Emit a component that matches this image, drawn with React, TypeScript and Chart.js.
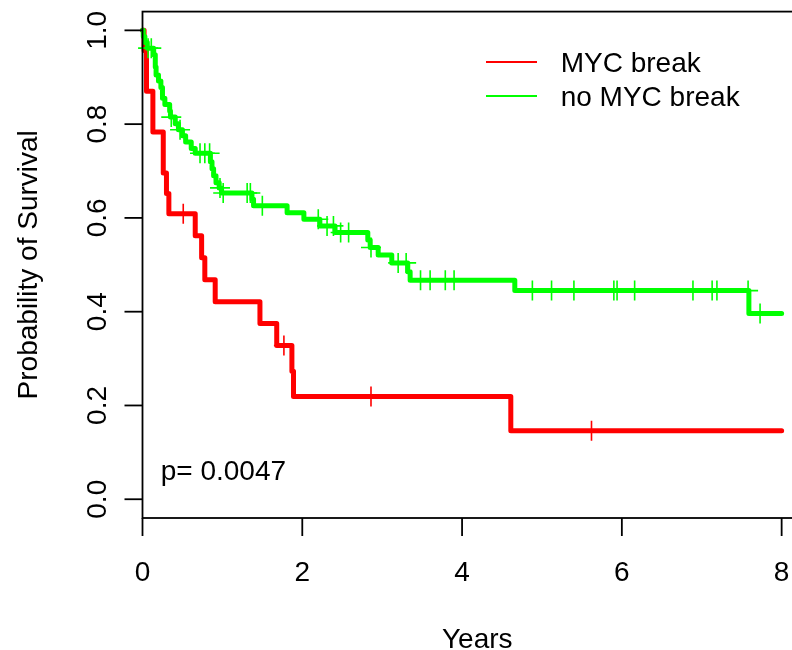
import { useEffect, useRef } from 'react';
import { Chart, registerables } from 'chart.js';

Chart.register(...registerables);

// ---- data ----
const RED_TIMES = [0, 0.02, 0.05, 0.13, 0.26, 0.30, 0.33, 0.66, 0.74, 0.78, 0.91, 1.47, 1.68, 1.87, 1.89, 4.61, 8.0];
const RED_SURV = [1, 0.957, 0.870, 0.783, 0.696, 0.652, 0.609, 0.562, 0.515, 0.468, 0.421, 0.375, 0.328, 0.273, 0.219, 0.146, 0.146];
const RED_CENSOR_TIMES = [0.51, 1.77, 2.86, 5.62];
const RED_CENSOR_SURV = [0.609, 0.328, 0.219, 0.146];

const GREEN_TIMES = [0, 0.01, 0.03, 0.06, 0.14, 0.16, 0.17, 0.20, 0.23, 0.25, 0.28, 0.34, 0.35, 0.41, 0.45, 0.50, 0.54, 0.61, 0.66, 0.85, 0.87, 0.89, 0.92, 0.96, 0.99, 1.37, 1.39, 1.81, 2.02, 2.22, 2.41, 2.82, 2.85, 2.95, 3.12, 3.32, 3.35, 4.66, 7.59, 8.0];
const GREEN_SURV = [1, 0.987, 0.974, 0.962, 0.948, 0.922, 0.905, 0.892, 0.878, 0.855, 0.842, 0.828, 0.815, 0.801, 0.788, 0.775, 0.762, 0.748, 0.738, 0.72, 0.705, 0.69, 0.675, 0.664, 0.653, 0.64, 0.626, 0.611, 0.597, 0.583, 0.569, 0.553, 0.537, 0.521, 0.504, 0.485, 0.467, 0.445, 0.396, 0.396];
const GREEN_CENSOR_TIMES = [0.07, 0.11, 0.36, 0.47, 0.72, 0.78, 0.84, 0.97, 1.01, 1.31, 1.35, 1.50, 2.20, 2.31, 2.39, 2.48, 2.58, 2.86, 3.20, 3.30, 3.48, 3.60, 3.79, 3.90, 4.88, 5.12, 5.40, 5.90, 5.94, 6.16, 6.89, 7.13, 7.19, 7.58, 7.73];
const GREEN_CENSOR_SURV = [0.962, 0.962, 0.815, 0.788, 0.738, 0.738, 0.738, 0.664, 0.653, 0.653, 0.653, 0.626, 0.597, 0.583, 0.583, 0.569, 0.569, 0.537, 0.504, 0.504, 0.467, 0.467, 0.467, 0.467, 0.445, 0.445, 0.445, 0.445, 0.445, 0.445, 0.445, 0.445, 0.445, 0.445, 0.396];

const X_TICKS = [0, 2, 4, 6, 8];
const X_TICK_LABELS = ['0', '2', '4', '6', '8'];
const Y_TICKS = [0, 0.2, 0.4, 0.6, 0.8, 1.0];
const Y_TICK_LABELS = ['0.0', '0.2', '0.4', '0.6', '0.8', '1.0'];
const SERIES_NAMES = ['MYC break', 'no MYC break'];
const SERIES_COLORS = ['#FF0000', '#00FF00'];
const X_TITLE = 'Years';
const Y_TITLE = 'Probability of Survival';
const P_TEXT = 'p= 0.0047';

const FONT = '28px "Liberation Sans", Arial, Helvetica, sans-serif';

function pts(ts: number[], ss: number[]) {
  return ts.map((t, i) => ({ x: t, y: ss[i] }));
}

export default function App() {
  const ref = useRef<HTMLCanvasElement>(null);

  useEffect(() => {
    const canvas = ref.current;
    if (!canvas) return;

    const rAxes = {
      id: 'rAxes',
      afterDraw(chart: any) {
        const { ctx, chartArea } = chart;
        const xs = chart.scales.x;
        const ys = chart.scales.y;
        const { left, right, top, bottom } = chartArea;
        ctx.save();
        ctx.strokeStyle = '#000';
        ctx.fillStyle = '#000';
        ctx.lineWidth = 1.8;
        ctx.lineCap = 'butt';
        ctx.strokeRect(left, top, right - left, bottom - top);

        ctx.font = FONT;
        // x axis ticks
        ctx.textAlign = 'center';
        ctx.textBaseline = 'alphabetic';
        X_TICKS.forEach((v, i) => {
          const px = xs.getPixelForValue(v);
          ctx.beginPath();
          ctx.moveTo(px, bottom);
          ctx.lineTo(px, bottom + 18);
          ctx.stroke();
          ctx.fillText(X_TICK_LABELS[i], px, 581);
        });
        // y axis ticks
        Y_TICKS.forEach((v, i) => {
          const py = ys.getPixelForValue(v);
          ctx.beginPath();
          ctx.moveTo(left, py);
          ctx.lineTo(left - 18, py);
          ctx.stroke();
          ctx.save();
          ctx.translate(106, py);
          ctx.rotate(-Math.PI / 2);
          ctx.fillText(Y_TICK_LABELS[i], 0, 0);
          ctx.restore();
        });
        // titles
        ctx.fillText(X_TITLE, (left + right) / 2, 647.5);
        ctx.save();
        ctx.translate(36.5, (top + bottom) / 2);
        ctx.rotate(-Math.PI / 2);
        ctx.fillText(Y_TITLE, 0, 0);
        ctx.restore();

        // p-value
        ctx.textAlign = 'left';
        ctx.fillText(P_TEXT, 160.7, 479.5);

        // legend
        const rows = [62, 96];
        const baselines = [72.3, 105.7];
        SERIES_NAMES.forEach((name, i) => {
          ctx.strokeStyle = SERIES_COLORS[i];
          ctx.lineWidth = 2;
          ctx.beginPath();
          ctx.moveTo(486, rows[i]);
          ctx.lineTo(537, rows[i]);
          ctx.stroke();
          ctx.fillStyle = '#000';
          ctx.fillText(name, 560.7, baselines[i]);
        });
        ctx.restore();
      },
    };

    const lineDs = (data: any[], color: string, order: number) => ({
      data,
      borderColor: color,
      backgroundColor: color,
      borderWidth: 5,
      stepped: 'before' as const,
      pointRadius: 0,
      fill: false,
      clip: false as const,
      borderCapStyle: 'round' as const,
      borderJoinStyle: 'round' as const,
      order,
    });
    const censorDs = (data: any[], color: string) => ({
      data,
      showLine: false,
      borderColor: color,
      backgroundColor: color,
      pointStyle: 'cross' as const,
      pointRadius: 10,
      pointBorderWidth: 1.6,
      pointBorderColor: color,
      clip: false as const,
      order: 0,
    });

    const chart = new Chart(canvas, {
      type: 'line',
      data: {
        datasets: [
          { label: SERIES_NAMES[0], ...lineDs(pts(RED_TIMES, RED_SURV), SERIES_COLORS[0], 2) },
          { label: SERIES_NAMES[1], ...lineDs(pts(GREEN_TIMES, GREEN_SURV), SERIES_COLORS[1], 1) },
          { label: SERIES_NAMES[0] + ' censored', ...censorDs(pts(RED_CENSOR_TIMES, RED_CENSOR_SURV), SERIES_COLORS[0]) },
          { label: SERIES_NAMES[1] + ' censored', ...censorDs(pts(GREEN_CENSOR_TIMES, GREEN_CENSOR_SURV), SERIES_COLORS[1]) },
        ] as any,
      },
      options: {
        responsive: false,
        animation: false,
        devicePixelRatio: 1,
        events: [],
        layout: { padding: { left: 142.5, top: 8.5, right: 18, bottom: 132 } },
        scales: {
          x: { type: 'linear', min: 0, max: 8.38, display: false },
          y: { type: 'linear', min: -0.04, max: 1.04, display: false },
        },
        plugins: { legend: { display: false }, tooltip: { enabled: false } },
      },
      plugins: [rAxes],
    });
    return () => chart.destroy();
  }, []);

  return (
    <div style={{ position: 'absolute', left: 0, top: 0, width: 792, height: 650, overflow: 'hidden', background: '#fff' }}>
      <canvas ref={ref} width={830} height={650} style={{ display: 'block', width: 830, height: 650 }} />
    </div>
  );
}
